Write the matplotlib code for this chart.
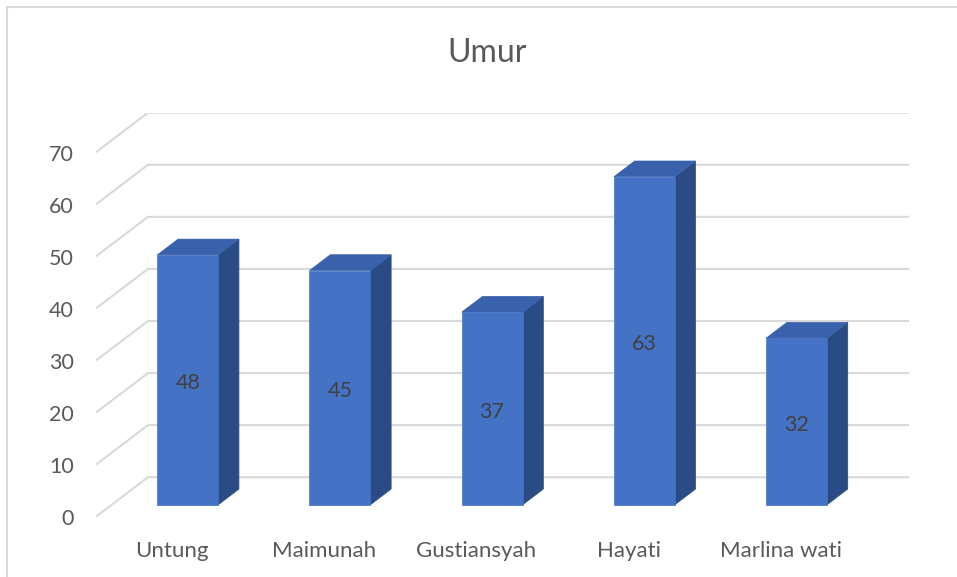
import matplotlib.pyplot as plt
from matplotlib.lines import Line2D
from matplotlib.patches import Polygon

names = ["Untung", "Maimunah", "Gustiansyah", "Hayati", "Marlina wati"]
ages = [48, 45, 37, 63, 32]
y_ticks = [0, 10, 20, 30, 40, 50, 60, 70]
title = "Umur"

FRONT = "#4472C4"
TOP = "#3A62AC"
SIDE = "#2B4B85"
GRID = "#D9D9D9"
TEXT = "#595959"

# oblique depth offset of the floor, in data units
DX = 52 / 152.2
DY = 39.5 / 5.207
BAR_W = 0.40
D0, D1 = 0.3, 0.7

plt.rcParams["font.family"] = ["Lato", "DejaVu Sans"]

W, H = 957, 577
fig = plt.figure(figsize=(W / 100, H / 100), dpi=100)
ax = fig.add_axes([96 / W, (H - 516.7) / H, (909 - 96) / W, (516.7 - 112.7) / H])
ax.set_xlim(0, len(names) + DX)
ax.set_ylim(0, y_ticks[-1] + DY)
ax.axis("off")


def pt(x, y, d):
    return (x + d * DX, y + d * DY)


# walls gridlines
for v in y_ticks:
    xs = [0, DX, len(names) + DX]
    ys = [v, v + DY, v + DY]
    ax.plot(xs, ys, color=GRID, lw=1.5, zorder=1, solid_capstyle="butt")
    ax.text(-0.145, v - 0.5, str(v), ha="right", va="center", fontsize=15.5,
            color=TEXT, clip_on=False)

# bars
for i, (name, val) in enumerate(zip(names, ages)):
    x0 = i + 0.5 - BAR_W / 2
    x1 = i + 0.5 + BAR_W / 2
    front = [pt(x0, 0, D0), pt(x1, 0, D0), pt(x1, val, D0), pt(x0, val, D0)]
    side = [pt(x1, 0, D0), pt(x1, 0, D1), pt(x1, val, D1), pt(x1, val, D0)]
    top = [pt(x0, val, D0), pt(x1, val, D0), pt(x1, val, D1), pt(x0, val, D1)]
    ax.add_patch(Polygon(side, closed=True, facecolor=SIDE, edgecolor=SIDE, lw=0.5, zorder=3))
    ax.add_patch(Polygon(top, closed=True, facecolor=TOP, edgecolor=TOP, lw=0.5, zorder=3))
    ax.add_patch(Polygon(front, closed=True, facecolor=FRONT, edgecolor=FRONT, lw=0.5, zorder=4))
    cx, cy = pt(i + 0.5, val / 2, D0)
    ax.text(cx, cy - 0.6, str(val), ha="center", va="center", fontsize=15.5,
            color="#404040", zorder=5)
    ax.text(i + 0.5, -6.6, name, ha="center", va="center", fontsize=16,
            color=TEXT, clip_on=False)

fig.text(487 / W, 1 - 53 / H, title, ha="center", va="center", fontsize=23, color=TEXT)

# chart area border (only top and left edges are inside the picture)
bx, by = 6.7 / W, 1 - 6.7 / H
fig.add_artist(Line2D([bx, 1], [by, by], transform=fig.transFigure, color=GRID, lw=1.5))
fig.add_artist(Line2D([bx, bx], [0, by], transform=fig.transFigure, color=GRID, lw=1.5))

fig.savefig("out.png", dpi=100)
